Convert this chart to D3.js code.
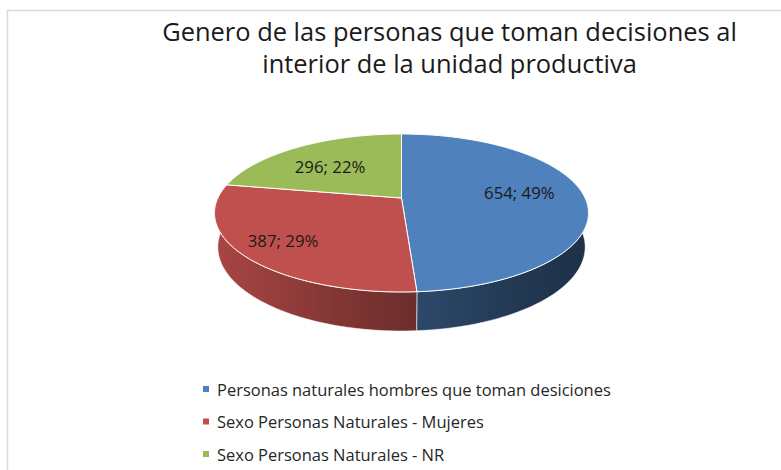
<!DOCTYPE html>
<html>
<head>
<meta charset="utf-8">
<script src="https://cdn.jsdelivr.net/npm/d3@7"></script>
<style>
  body { margin: 0; background: #fff; }
  svg { display: block; font-family: "Open Sans", sans-serif; }
</style>
</head>
<body>
<div class="chart"></div>
<script>
// Genero de las personas que toman decisiones (3D pie)
var categories = [
  "Personas naturales hombres que toman desiciones",
  "Sexo Personas Naturales - Mujeres",
  "Sexo Personas Naturales - NR"
];
var values = [654, 387, 296];
var colors = ["#4F81BD", "#C0504D", "#9BBB59"];
var titleLines = ["Genero de las personas que toman decisiones al", "interior de la unidad productiva"];

var svgWidth = 781;
var svgHeight = 470;

var svg = d3.select(".chart")
  .append("svg")
  .attr("width", svgWidth)
  .attr("height", svgHeight);

// chart area border (runs off the right and bottom edge)
svg.append("rect")
  .attr("x", 7.5).attr("y", 10.5)
  .attr("width", 900).attr("height", 600)
  .attr("fill", "none")
  .attr("stroke", "#D9D9D9")
  .attr("stroke-width", 1.5);

// title, two centred lines, font sized to the width of line one
var title = svg.append("g").attr("class", "title");
title.selectAll("text")
  .data(titleLines)
  .enter().append("text")
  .attr("x", 449.5)
  .attr("y", function(d, i) { return 41 + i * 32; })
  .attr("text-anchor", "middle")
  .attr("fill", "#1a1a1a")
  .attr("font-size", 22)
  .text(function(d) { return d; });
var tw = title.select("text").node().getComputedTextLength();
title.selectAll("text").attr("font-size", 22 * 575 / tw);

// simple perspective camera for the pie
var cx = 401.5, cy = 198;
var tilt = 24.5 * Math.PI / 180;
var dist = 5.27 * Math.cos(tilt);
var focal = 880.5;
var thick = 0.2033;

// a = angle clockwise from the back, r = radius (0..1), z = height
function project(a, r, z) {
  var X = r * Math.sin(a), Y = r * Math.cos(a);
  var d = dist + Y * Math.cos(tilt) - z * Math.sin(tilt);
  var up = Y * Math.sin(tilt) + z * Math.cos(tilt);
  return [cx + focal * X / d, cy - focal * up / d];
}

function arcPoints(a0, a1, z) {
  var n = Math.max(2, Math.ceil(Math.abs(a1 - a0) / 0.02));
  var pts = [];
  for (var k = 0; k <= n; k++) {
    pts.push(project(a0 + (a1 - a0) * k / n, 1, z));
  }
  return pts;
}

var pie = d3.pie().sort(null).startAngle(0).endAngle(2 * Math.PI);
var arcs = pie(values);
var total = d3.sum(values);
var line = d3.line().curve(d3.curveLinear);

// gradients for the side walls, darker towards the right
var defs = svg.append("defs");
var xLeft = project(-Math.PI / 2, 1, 0)[0] - 3;
var xRight = project(Math.PI / 2, 1, 0)[0] + 3;
arcs.forEach(function(d, i) {
  var g = defs.append("linearGradient")
    .attr("id", "wall" + i)
    .attr("gradientUnits", "userSpaceOnUse")
    .attr("x1", xLeft).attr("x2", xRight)
    .attr("y1", 0).attr("y2", 0);
  var base = d3.rgb(colors[i]);
  d3.range(0, 1.0001, 0.1).forEach(function(t) {
    var u = t * 2 - 1;
    var f = 0.38 + 0.5 * Math.pow((1 - u) / 2, 1.3);
    g.append("stop")
      .attr("offset", t)
      .attr("stop-color", d3.rgb(base.r * f, base.g * f, base.b * f));
  });
});

var pieG = svg.append("g").attr("class", "pie");

// side walls (front half only)
arcs.forEach(function(d, i) {
  var a0 = Math.max(d.startAngle, Math.PI / 2);
  var a1 = Math.min(d.endAngle, 3 * Math.PI / 2);
  if (a0 >= a1) return;
  var pts = arcPoints(a0, a1, 0).concat(arcPoints(a1, a0, -thick));
  pieG.append("path")
    .attr("d", line(pts) + "Z")
    .attr("fill", "url(#wall" + i + ")")
    .attr("stroke", "#ffffff")
    .attr("stroke-opacity", 0.7)
    .attr("stroke-width", 0.8)
    .attr("stroke-linejoin", "round");
});

// top faces
pieG.selectAll("path.top")
  .data(arcs)
  .enter().append("path")
  .attr("class", "top")
  .attr("d", function(d) {
    return line([project(0, 0, 0)].concat(arcPoints(d.startAngle, d.endAngle, 0))) + "Z";
  })
  .attr("fill", function(d, i) { return colors[i]; })
  .attr("stroke", "#ffffff")
  .attr("stroke-width", 1)
  .attr("stroke-linejoin", "round");

// data labels
var labelRadii = [0.645, 0.78, 0.666];
var labelShift = [-4, -1, 4];
pieG.selectAll("text")
  .data(arcs)
  .enter().append("text")
  .attr("x", function(d, i) { return project((d.startAngle + d.endAngle) / 2, labelRadii[i], 0)[0]; })
  .attr("y", function(d, i) { return project((d.startAngle + d.endAngle) / 2, labelRadii[i], 0)[1] + labelShift[i]; })
  .attr("text-anchor", "middle")
  .attr("dominant-baseline", "central")
  .attr("fill", "#1a1a1a")
  .attr("font-size", 16.8)
  .text(function(d) { return d.value + "; " + Math.round(d.value / total * 100) + "%"; });

// legend
var rowY = d3.scalePoint().domain(categories).range([389, 454]);
var legend = svg.append("g").attr("class", "legend");
var items = legend.selectAll("g")
  .data(categories)
  .enter().append("g")
  .attr("transform", function(d) { return "translate(0," + rowY(d) + ")"; });
items.append("rect")
  .attr("x", 203).attr("y", -3)
  .attr("width", 6).attr("height", 6)
  .attr("fill", function(d, i) { return colors[i]; });
items.append("text")
  .attr("x", 217)
  .attr("dominant-baseline", "central")
  .attr("fill", "#262626")
  .attr("font-size", 15)
  .text(function(d) { return d; });
var lw = items.select("text").node().getComputedTextLength();
items.selectAll("text").attr("font-size", 15 * 394 / lw);
</script>
</body>
</html>
